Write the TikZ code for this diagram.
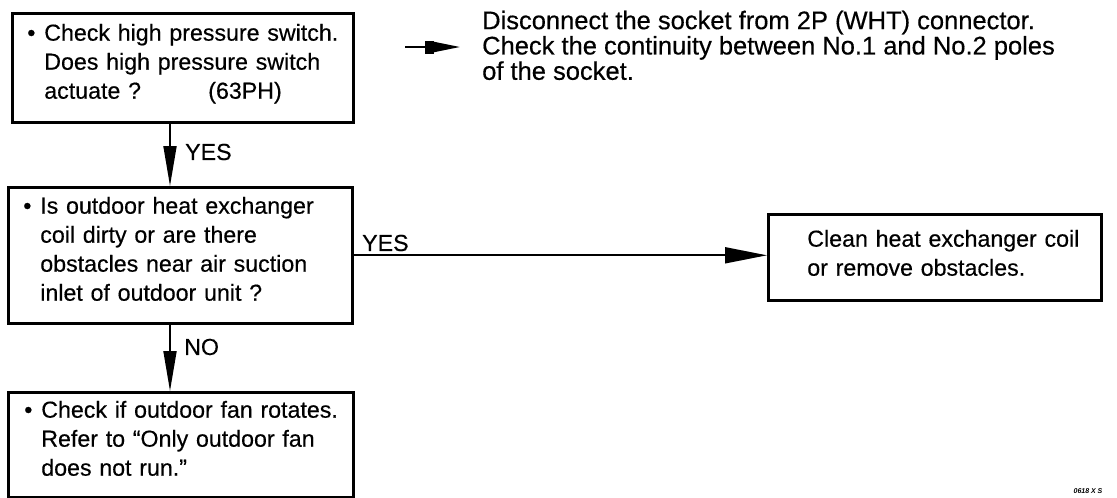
\documentclass[tikz,border=0pt]{standalone}
\usepackage{fontspec}
\setmainfont{Liberation Sans}
\newfontfamily\scanfont{Liberation Sans}[FakeBold=0.4]
\usetikzlibrary{arrows.meta}
\newcommand{\bul}{\makebox[17pt][l]{\textbullet}}
\newcommand{\ind}{\hspace*{17pt}}
\newcommand{\lift}{\rule[-13pt]{0pt}{1pt}}
\hbadness=10000 \hfuzz=100pt
\begin{document}
\begin{tikzpicture}[x=1pt,y=-1pt,
  txt/.style={font=\fontsize{23.2}{29}\scanfont},
  box/.style={txt, draw, line width=2.6pt, anchor=north west, inner ysep=0pt, align=left},
  conn/.style={line width=1.8pt},
  down/.style={conn, -{Triangle[length=40pt,width=13pt]}},
  right/.style={conn, -{Triangle[length=42pt,width=16pt]}},
  lbl/.style={txt, inner sep=0pt, anchor=west}]
\useasboundingbox (0,0) rectangle (1117,498);

\node[box, minimum width=341pt, minimum height=109pt, inner xsep=15pt, text width=311pt] (b1) at (11,12)
  {\mbox{\bul Check high pressure switch.}\\\mbox{\ind Does high pressure switch}\\\mbox{\ind \makebox[164pt][l]{actuate ?}(63PH)}\lift};

\node[txt, anchor=north west, inner sep=0pt, align=left, font=\fontsize{25.5}{25.3}\scanfont] (rt) at (482,10.5)
  {Disconnect the socket from 2P (WHT) connector.\\Check the continuity between No.1 and No.2 poles\\of the socket.};

\node[box, minimum width=344pt, minimum height=136pt, inner xsep=15pt, text width=314pt] (b2) at (7,186)
  {\mbox{\bul Is outdoor heat exchanger}\\\mbox{\ind coil dirty or are there}\\\mbox{\ind obstacles near air suction}\\\mbox{\ind inlet of outdoor unit ?}\lift};

\node[box, minimum width=333pt, minimum height=86pt, inner xsep=18pt, text width=297pt] (b3) at (767,213)
  {\mbox{\hspace*{21pt}Clean heat exchanger coil}\\\mbox{\hspace*{21pt}or remove obstacles.}\rule[-9pt]{0pt}{1pt}};

\node[box, minimum width=345pt, minimum height=105pt, inner xsep=16pt, text width=313pt] (b4) at (7,391)
  {\mbox{\bul Check if outdoor fan rotates.}\\\mbox{\ind Refer to “Only outdoor fan}\\\mbox{\ind does not run.”}\lift};

\coordinate (cx) at (170,0);
\coordinate (t1) at (405,47);
\coordinate (t2) at (460,47);

\draw[down] (b1.south -| cx) -- (b2.north -| cx);
\draw[down] (b2.south -| cx) -- (b4.north -| cx);
\draw[right] (b2.east) -- (b2.east -| b3.west);
\draw[conn, -{Square[length=9pt,width=13pt,sep=0pt] Triangle[length=26pt,width=10pt]}] (t1) -- (t2);

\node[lbl] (y1) at (185,152) {YES};
\node[lbl] (n1) at (184,347) {NO};
\node[lbl] (y2) at (362,243) {YES};
\node[inner sep=0pt, font=\fontsize{7}{8}\selectfont\bfseries\itshape] (code) at (1088,491) {0618 X S};
\end{tikzpicture}
\end{document}
